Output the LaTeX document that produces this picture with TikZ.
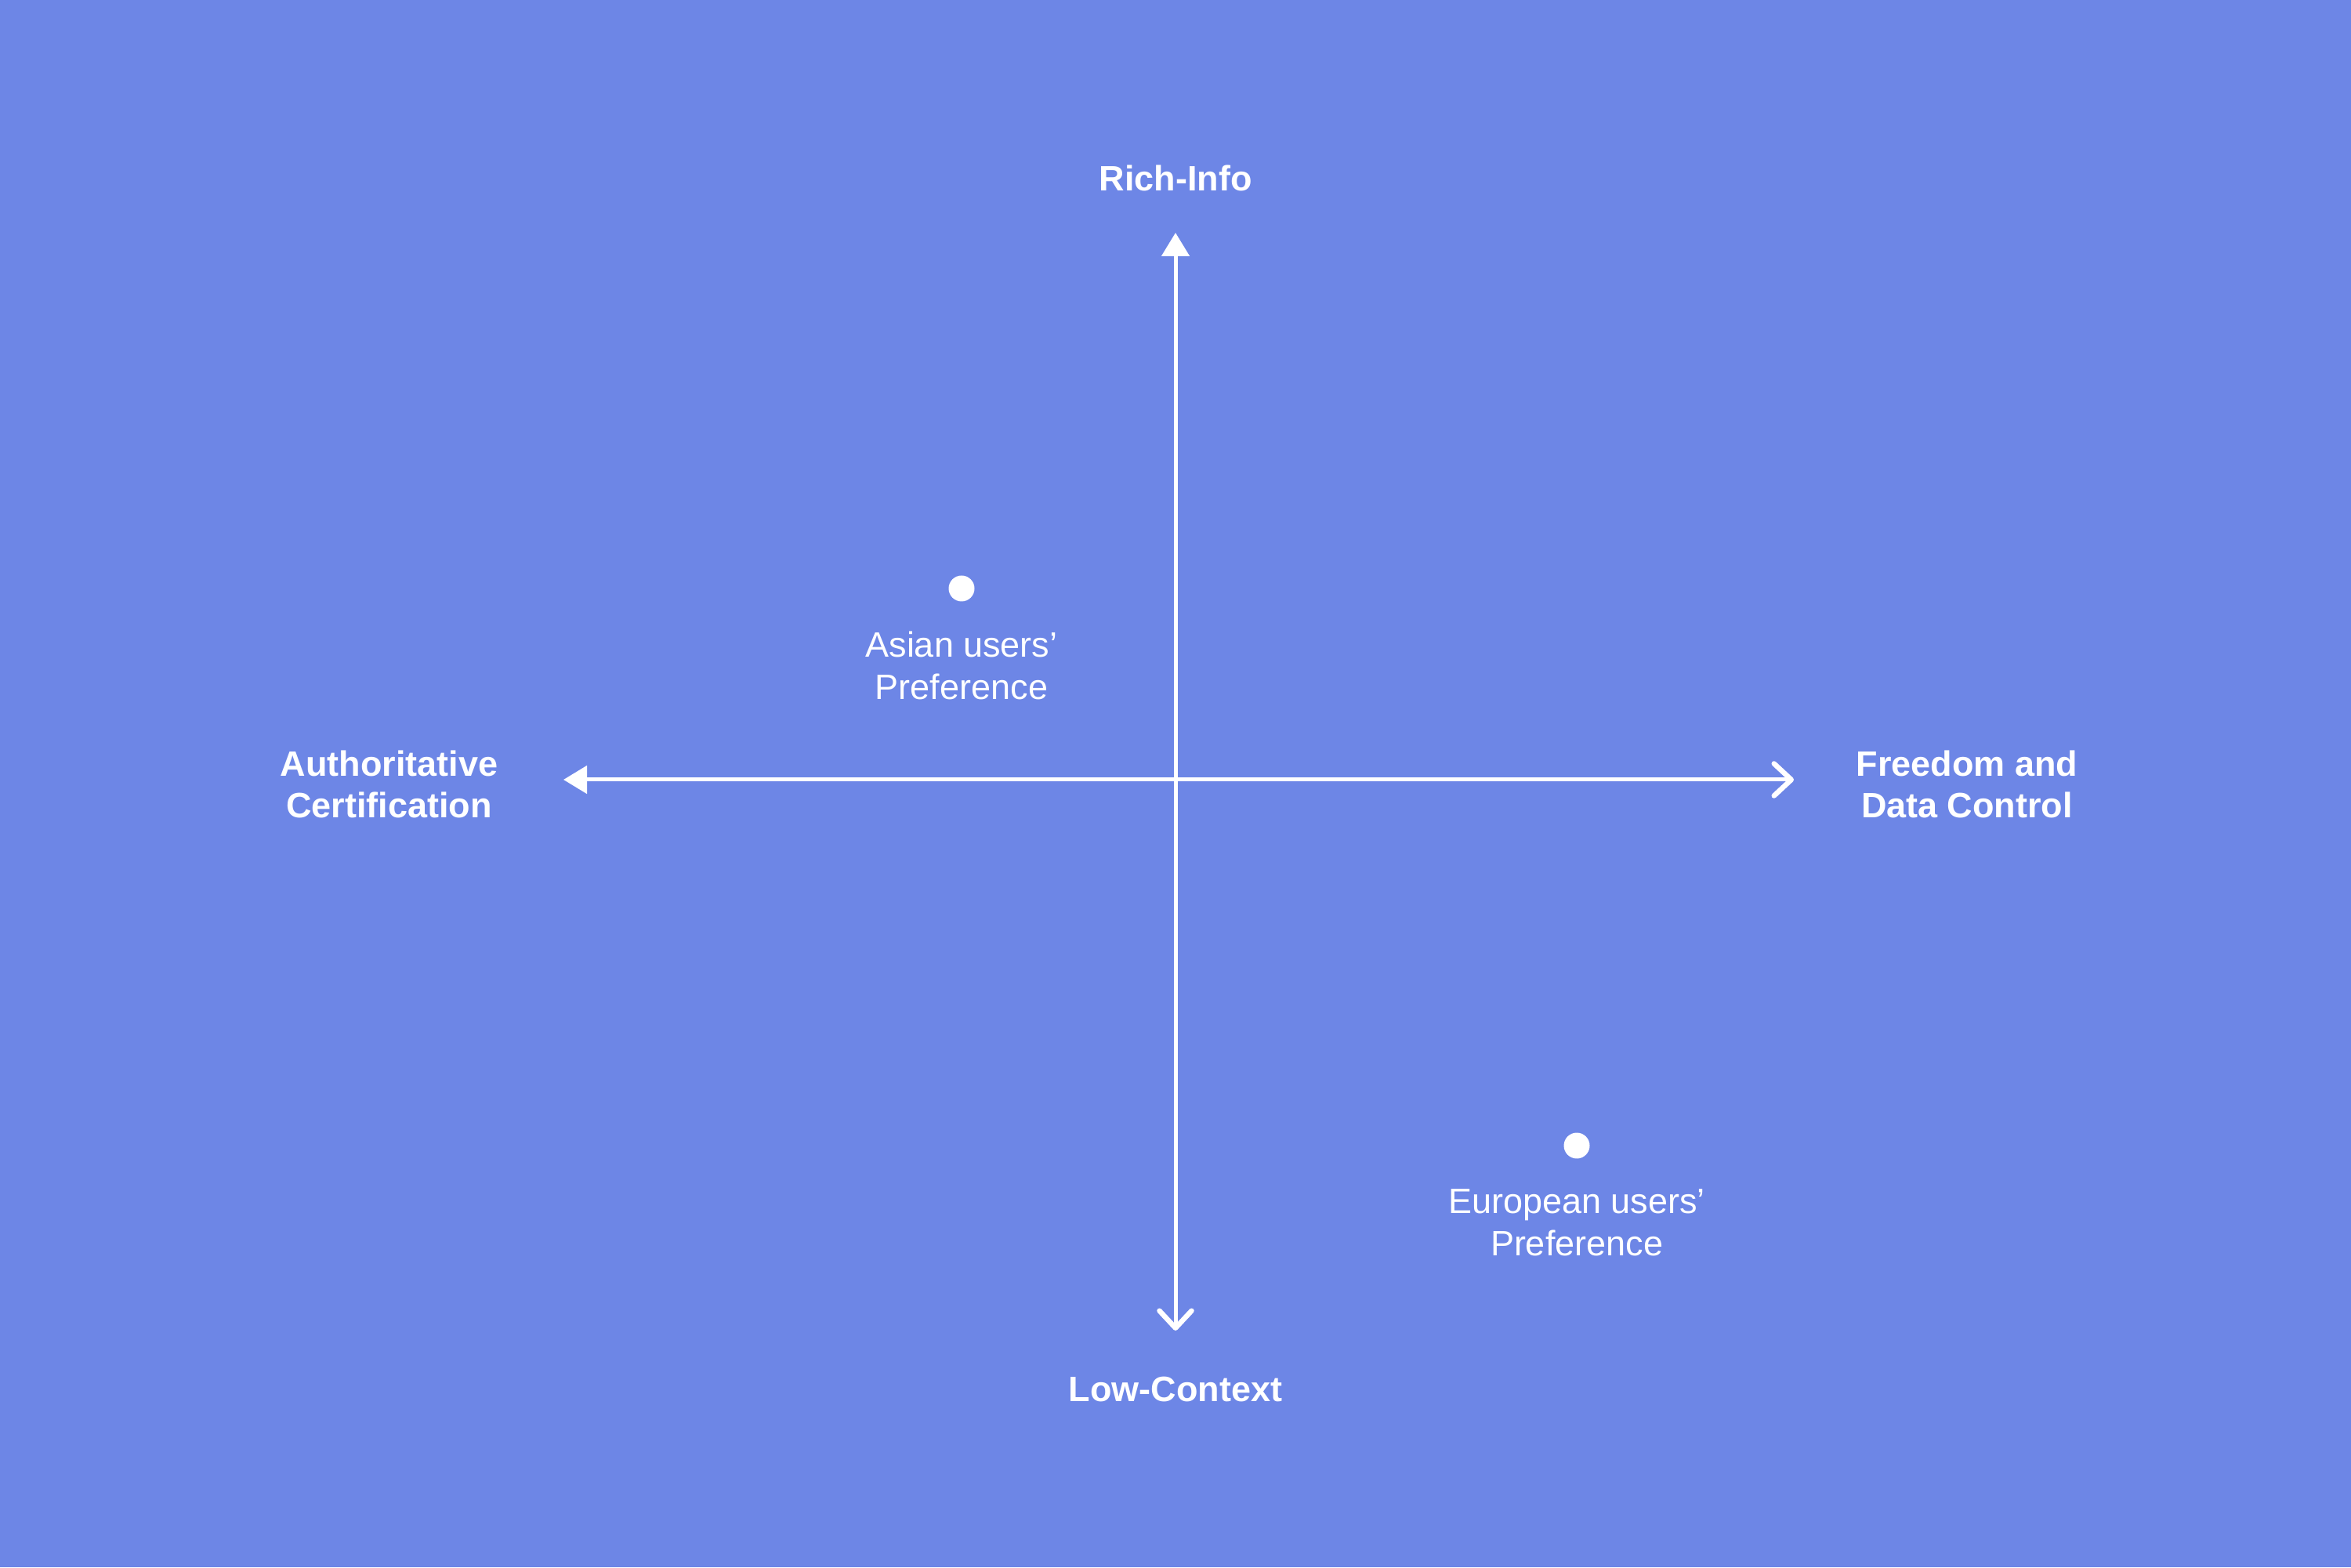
\documentclass[tikz,border=0pt]{standalone}
\usepackage{fontspec}
\setmainfont{Liberation Sans}
\usetikzlibrary{arrows.meta, positioning}
\definecolor{quadblue}{RGB}{109, 134, 230}

\begin{document}
\begin{tikzpicture}
  \tikzset{
    axis/.style={draw=white, line width=0.05cm},
    axislabel/.style={text=white, font=\fontsize{12.8}{15}\selectfont\bfseries, align=center, inner sep=0pt},
    preflabel/.style={text=white, font=\fontsize{12.8}{15.3}\selectfont, align=center, inner sep=0pt},
    prefdot/.style={circle, fill=white, minimum size=0.33cm, inner sep=0pt}
  }
  \fill[quadblue] (0,0) rectangle (30,20);
  \useasboundingbox (0,0) rectangle (30,20);

  % axis ends
  \coordinate (ntip) at (15,17.03);
  \coordinate (stip) at (15,3.02);
  \coordinate (wtip) at (7.19,10.05);
  \coordinate (etip) at (22.89,10.05);

  \draw[axis, {Triangle[length=0.3cm, width=0.35cm]}-{Straight Barb[length=0.22cm, width=0.41cm, line width=0.065cm, line cap=round, line join=round]}] (wtip) -- (etip);
  \draw[axis, {Triangle[length=0.3cm, width=0.35cm]}-{Straight Barb[length=0.22cm, width=0.41cm, line width=0.065cm, line cap=round, line join=round]}] (ntip) -- (stip);

  \node[axislabel, above=0.52cm of ntip] (richinfo) {Rich-Info};
  \node[axislabel, below=0.58cm of stip] (lowcontext) {Low-Context};
  \node[axislabel, left=0.83cm of wtip, yshift=-0.06cm] (authcert) {Authoritative\\Certification};
  \node[axislabel, right=0.79cm of etip, yshift=-0.06cm] (freedom) {Freedom and\\Data Control};

  % user preferences
  \node[prefdot] (adot) at (12.27,12.49) {};
  \node[preflabel, below=0.37cm of adot] (alabel) {Asian users’\\Preference};
  \node[prefdot] (edot) at (20.12,5.38) {};
  \node[preflabel, below=0.38cm of edot] (elabel) {European users’\\Preference};
\end{tikzpicture}
\end{document}
